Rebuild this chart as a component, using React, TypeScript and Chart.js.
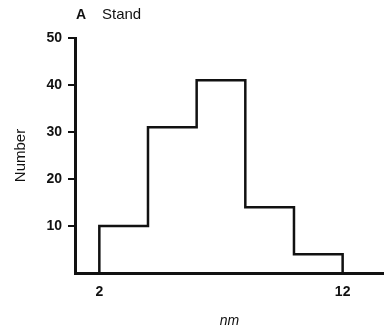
import React, { useEffect, useRef } from "react";
import { Chart, registerables } from "chart.js";

Chart.register(...registerables);

const binEdges = [2, 4, 6, 8, 10, 12];
const counts = [10, 31, 41, 14, 4];
const xTickValues = [2, 12];
const yTickValues = [10, 20, 30, 40, 50];
const panelLetter = "A";
const panelTitle = "Stand";
const xTitle = "nm";
const yTitle = "Number";

const INK = "#111111";
const FONT = "'Liberation Sans', Arial, Helvetica, sans-serif";

function buildStepPoints() {
  const pts: { x: number; y: number }[] = [{ x: binEdges[0], y: 0 }];
  counts.forEach((c, i) => {
    pts.push({ x: binEdges[i], y: c });
    pts.push({ x: binEdges[i + 1], y: c });
  });
  pts.push({ x: binEdges[binEdges.length - 1], y: 0 });
  return pts;
}

const titlePlugin = {
  id: "panelTitle",
  afterDraw(chart: any) {
    const ctx = chart.ctx;
    ctx.save();
    ctx.fillStyle = INK;
    ctx.textBaseline = "alphabetic";
    ctx.textAlign = "left";
    ctx.font = `bold 14px ${FONT}`;
    ctx.fillText(panelLetter, 76, 19);
    ctx.font = `15px ${FONT}`;
    ctx.fillText(panelTitle, 102, 19);
    ctx.restore();
  },
};

export default function App() {
  const ref = useRef<HTMLCanvasElement | null>(null);
  useEffect(() => {
    if (!ref.current) return;
    const chart = new Chart(ref.current, {
      type: "line",
      data: {
        datasets: [
          {
            data: buildStepPoints(),
            borderColor: INK,
            borderWidth: 2.5,
            pointRadius: 0,
            tension: 0,
            fill: false,
          },
        ],
      },
      options: {
        animation: false,
        responsive: false,
        layout: { padding: { top: 38, right: 0, left: 0, bottom: 0 } },
        plugins: { legend: { display: false }, tooltip: { enabled: false }, title: { display: false } },
        scales: {
          x: {
            type: "linear",
            min: 1,
            max: 13.7,
            afterFit: (s: any) => { s.height = 63; },
            afterBuildTicks: (s: any) => { s.ticks = xTickValues.map((v) => ({ value: v })); },
            grid: { display: true, drawOnChartArea: false, drawTicks: false },
            border: { display: true, color: INK, width: 3 },
            ticks: { color: INK, padding: 11, font: { family: FONT, size: 14, weight: "bold" }, maxRotation: 0 },
            title: { display: true, text: xTitle, color: INK, padding: { top: 0, bottom: 6 }, font: { family: FONT, size: 14, style: "italic" } },
          },
          y: {
            min: 0,
            max: 50,
            afterFit: (s: any) => { s.width = 75; },
            afterBuildTicks: (s: any) => { s.ticks = yTickValues.map((v) => ({ value: v })); },
            grid: { display: true, drawOnChartArea: false, drawTicks: true, tickLength: 7, color: INK, lineWidth: 2 },
            border: { display: true, color: INK, width: 3 },
            ticks: { color: INK, padding: 6, font: { family: FONT, size: 14, weight: "bold" } },
            title: { display: true, text: yTitle, color: INK, padding: { top: 12, bottom: 0 }, font: { family: FONT, size: 15 } },
          },
        },
      },
      plugins: [titlePlugin],
    });
    return () => chart.destroy();
  }, []);
  return (
    <div style={{ position: "absolute", left: 0, top: 0, width: 384, height: 336, background: "#fff" }}>
      <canvas ref={ref} width={384} height={336} />
    </div>
  );
}
